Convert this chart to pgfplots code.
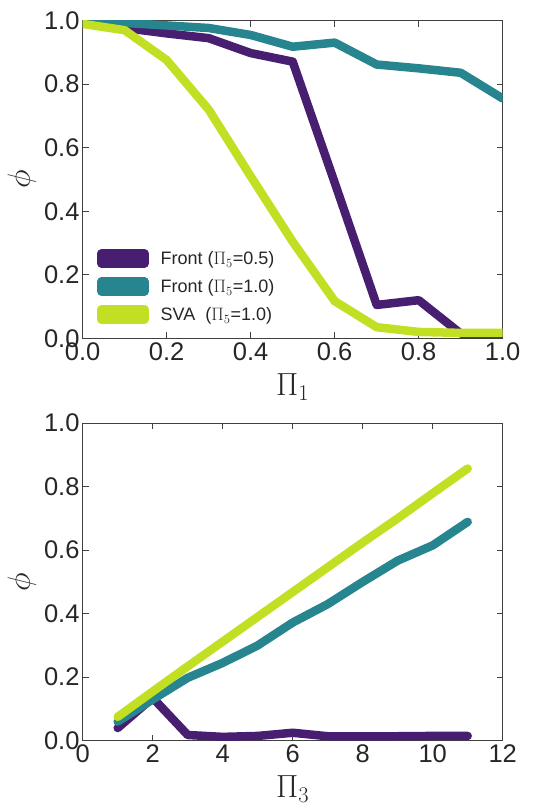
\RequirePackage{fix-cm}
\documentclass[border=0pt]{standalone}
\usepackage{fontspec}
\setmainfont{Liberation Sans}
\usepackage{pgfplots}
\pgfplotsset{compat=1.18}
\definecolor{vpurple}{HTML}{481F70}
\definecolor{vteal}{HTML}{26858E}
\definecolor{vlime}{HTML}{C2DF23}
\definecolor{axgray}{HTML}{404040}
\definecolor{txt}{HTML}{262626}

\pgfplotsset{
  panel/.style={
    scale only axis, width=420pt, height=317.6pt,
    ymin=0, ymax=1, ytick={0,0.2,0.4,0.6,0.8,1.0},
    axis line style={axgray, line width=0.9pt},
    tick style={axgray, line width=0.9pt},
    major tick length=6pt,
    tick align=inside,
    /pgf/number format/assume math mode=true,
    tick label style={font=\fontsize{25.5}{30}\selectfont, text=txt, inner sep=0pt},
    yticklabel style={xshift=-3pt},
    xticklabel style={yshift=-4pt},
    yticklabel={\pgfmathprintnumber[fixed,fixed zerofill,precision=1]{\tick}},
    label style={font=\fontsize{32}{36}\selectfont, text=txt, inner sep=0pt},
    ylabel={$\phi$},
    ylabel style={at={(axis description cs:-0.145,0.5)}, anchor=center},
    xlabel style={at={(axis description cs:0.5,-0.18)}, anchor=base},
    every axis plot/.append style={line width=8.5pt, line cap=round, line join=round},
  }
}

\begin{document}
\begin{tikzpicture}
\path[use as bounding box] (0,0) rectangle (533pt,803pt);

% top panel
\begin{axis}[panel,
  at={(82.7pt,464.7pt)}, anchor=south west,
  xmin=0, xmax=1, xtick={0,0.2,0.4,0.6,0.8,1.0},
  xticklabel={\pgfmathprintnumber[fixed,fixed zerofill,precision=1]{\tick}},
  xlabel={$\Pi_1$},
  legend image code/.code={
    \path (0pt,-5pt) rectangle (43pt,5pt);
    \draw[line width=10pt, line cap=round] (5pt,0pt) -- (38pt,0pt);},
  legend cell align=left,
  legend style={draw=none, fill=none, at={(0.034,0.281)}, anchor=north west,
    inner sep=0pt, row sep=9.5pt, column sep=12pt,
    font=\fontsize{18}{20}\selectfont, text=txt,
    nodes={inner sep=0pt, text height=15pt, text depth=3pt}},
]
\addplot[vpurple] coordinates {
  (0,1.0) (0.1,0.977) (0.2,0.96) (0.3,0.945) (0.4,0.898) (0.5,0.871)
  (0.6,0.49) (0.7,0.105) (0.8,0.12) (0.9,0.015) (1.0,0.015)};
\addplot[vteal] coordinates {
  (0,1.0) (0.1,0.993) (0.2,0.985) (0.3,0.977) (0.4,0.955) (0.5,0.918)
  (0.6,0.931) (0.7,0.862) (0.8,0.85) (0.9,0.836) (1.0,0.755)};
\addplot[vlime] coordinates {
  (0,0.99) (0.1,0.97) (0.2,0.876) (0.3,0.72) (0.4,0.51) (0.5,0.304)
  (0.6,0.117) (0.7,0.035) (0.8,0.02) (0.9,0.017) (1.0,0.017)};
\legend{Front ($\Pi_5$=0.5), Front ($\Pi_5$=1.0), SVA\ \ ($\Pi_5$=1.0)}
\end{axis}

% bottom panel
\begin{axis}[panel,
  at={(82.7pt,62.3pt)}, anchor=south west,
  xmin=0, xmax=12, xtick={0,2,4,6,8,10,12},
  xlabel={$\Pi_3$},
]
\addplot[vpurple] coordinates {
  (1,0.04) (2,0.135) (3,0.018) (4,0.012) (5,0.015) (6,0.025)
  (7,0.014) (8,0.014) (9,0.014) (10,0.015) (11,0.015)};
\addplot[vteal] coordinates {
  (1,0.06) (2,0.13) (3,0.198) (4,0.245) (5,0.30) (6,0.372)
  (7,0.43) (8,0.50) (9,0.567) (10,0.615) (11,0.689)};
\addplot[vlime] coordinates {
  (1,0.075) (2,0.155) (3,0.234) (4,0.312) (5,0.39) (6,0.468)
  (7,0.546) (8,0.624) (9,0.70) (10,0.779) (11,0.857)};
\end{axis}
\end{tikzpicture}
\end{document}
